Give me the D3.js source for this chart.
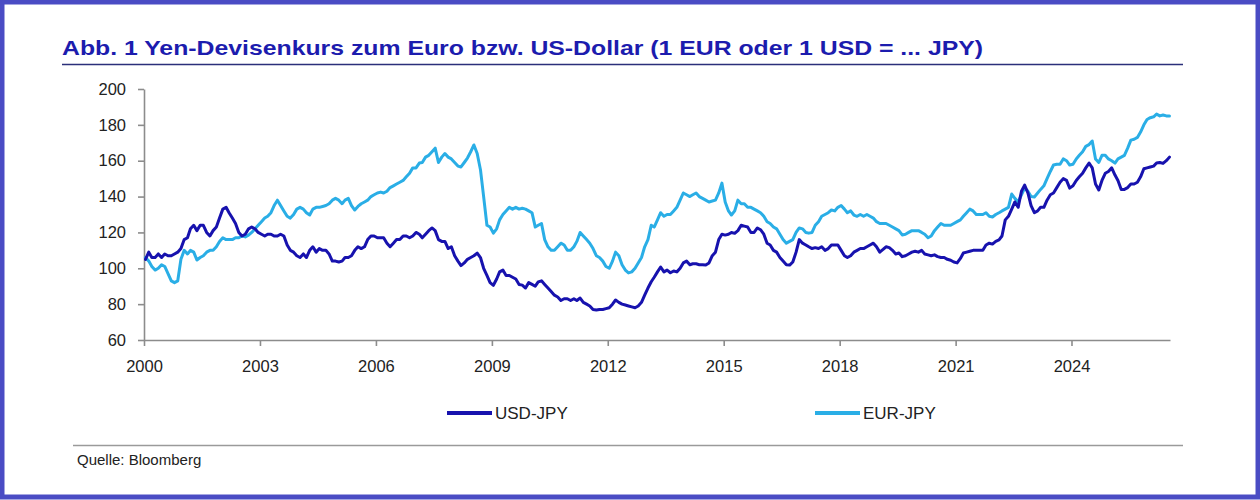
<!DOCTYPE html>
<html>
<head>
<meta charset="utf-8">
<script src="https://cdn.jsdelivr.net/npm/d3@7"></script>
<style>
  html, body { margin: 0; padding: 0; background: #fff; }
  svg { display: block; font-family: "Liberation Sans", Arial, sans-serif; }
</style>
</head>
<body>
<svg id="chart" width="1260" height="500"></svg>
<script>
// ---- Data (monthly, Jan 2000 - Jul 2026) ----
const startYear = 2000;
const usdJpy = [
  105, 109, 106, 106, 108, 106, 108, 107, 107, 108, 109, 111,
  116, 117, 122, 124, 121, 124, 124, 120, 118, 121, 123, 128,
  133, 134, 131, 128, 125, 120, 118, 119, 122, 123, 122, 120,
  119, 118, 119, 119, 118, 118, 119, 118, 113, 110, 109, 107,
  106, 108, 106, 110, 112, 109, 111, 110, 110, 108, 104, 104,
  103.5, 104, 106, 106, 107, 110, 112, 111, 112, 116, 118, 118,
  117, 117, 117, 114, 112, 114, 116, 116, 118, 118, 117, 118,
  120, 119, 117, 119, 121, 122.5, 121, 116, 115, 115, 111, 112,
  107, 104, 101.5, 103, 105, 106, 107, 108.5, 106, 100, 96, 92,
  90.5, 94, 98, 99, 96, 96, 95, 94, 91, 90.6, 89, 92,
  91, 90, 92.4, 93, 91, 89, 87, 85, 84, 82, 83, 83,
  82, 83, 82, 83.4, 81, 80, 79, 77, 76.7, 77, 77, 77.5,
  78, 80, 82.3, 81, 80, 79.5, 79, 78.5, 78, 79, 81, 85,
  89, 92.5, 95, 98, 100.7, 98, 99, 97.5, 98.5, 98, 100, 103,
  104, 102, 102.5, 102.5, 102, 102, 101.8, 103, 107, 109, 116, 119,
  118.5, 119, 120, 119.5, 121, 124, 123.5, 123, 120, 120, 122.5, 121.5,
  119, 114, 113, 110, 109, 106, 104, 102, 101.8, 103.5, 109, 116,
  114, 113, 112, 111, 111.5, 111, 112, 110, 111, 113, 113, 113,
  110, 107, 106, 107, 109, 110, 111, 111, 112, 113, 114, 112,
  109, 110.5, 112, 111.5, 110, 108, 108.5, 106.5, 107, 108, 109, 109.5,
  109, 110, 108, 107.5, 107, 107.5, 106.5, 106, 106, 105, 104.5, 103.5,
  103, 105.5, 108.5, 109, 109.5, 110, 110, 110, 110, 113, 114, 113.5,
  115, 115.8, 118, 127, 129, 133, 137, 134, 143, 146.4, 142, 135,
  131, 132, 134, 134, 138, 141, 142, 145, 148, 150, 149, 144.7,
  146, 149, 151, 153, 156, 158.7, 156, 147, 143.7, 149, 153, 154,
  156, 152, 149, 144, 144, 145, 147, 147, 148, 151, 155.5, 156,
  156.5, 157, 158.7, 159, 158.5, 160, 162
];
const eurJpy = [
  106, 104, 101, 99, 100, 102, 101, 97, 93, 92, 93, 105,
  110, 108, 110, 109, 104.6, 106, 107, 109, 110, 110, 112, 115,
  117, 116, 116, 116, 117, 117, 118, 117.5, 118.5, 120, 122, 124,
  126, 128, 129, 131, 135, 138, 135, 132, 129, 128, 130, 133,
  134, 133, 131, 129.7, 133, 134, 134, 134.5, 135, 136, 138, 139,
  138, 136, 138, 139, 135, 132.5, 134.5, 136, 137, 138, 140, 141,
  142, 142.5, 142, 143, 145, 146, 147, 148, 149, 151, 153, 156,
  156, 158.7, 159, 162, 163, 165, 167, 159, 162, 164, 162, 161,
  159, 157, 156.5, 159, 161.5, 165, 168.8, 164, 155, 140, 124, 123,
  119.6, 122, 127, 130, 132, 134, 133, 134, 133, 133.5, 133, 132,
  131, 123, 124, 125, 116, 112, 110, 110, 112, 114, 113, 110,
  110, 112, 115, 120, 118, 116, 114, 111, 107, 106, 104, 101,
  100, 104, 109, 107, 102, 99, 97.4, 98, 100, 103, 106, 112,
  116, 124, 123, 127, 131, 129, 130, 130, 132, 134, 138, 142,
  141, 140, 141, 142, 140, 139, 138, 137, 137.5, 138, 142, 147.5,
  137, 132, 129.7, 132, 138, 136, 136, 134, 134, 133, 132, 131,
  129, 126, 125, 123, 122, 119, 116, 114, 115, 116, 120, 122.5,
  122, 120, 119.6, 120, 124, 126, 129, 130, 131, 132.5, 132, 134,
  135, 133, 131, 132, 129.7, 129, 130, 129, 130, 129, 128, 126,
  125, 125, 125, 124, 123, 122, 121, 118.6, 119, 120, 121, 121,
  121, 120, 119, 117, 118, 121, 123, 125, 124, 124, 124, 125,
  126, 127, 129, 131, 133, 132, 130, 130, 130, 131, 129, 128.6,
  130, 131, 132, 133, 134, 141.4, 139, 137, 141, 144.7, 143, 140,
  139.8, 142, 144, 146, 150, 154, 157.6, 158, 158, 161, 160, 157.6,
  158, 161, 163, 165, 168, 169, 171, 161, 159, 163, 163, 161,
  160, 158.7, 161, 162, 163, 167, 171.5, 172, 173, 176, 180, 183,
  184, 184.5, 186, 185, 185.5, 185, 185
];
const seriesNames = ["USD-JPY", "EUR-JPY"];
const yTicks = [60, 80, 100, 120, 140, 160, 180, 200];
const xTickYears = [2000, 2003, 2006, 2009, 2012, 2015, 2018, 2021, 2024];
const titleText = "Abb. 1 Yen-Devisenkurs zum Euro bzw. US-Dollar (1 EUR oder 1 USD = ... JPY)";
const sourceText = "Quelle: Bloomberg";

// ---- Build ----
const dates = usdJpy.map((_, i) => new Date(startYear + Math.floor(i / 12), i % 12, 15));
const colors = { "USD-JPY": "#1712ae", "EUR-JPY": "#2aaee6" };

const svg = d3.select("#chart");
svg.append("rect").attr("x", 0).attr("y", 0).attr("width", 1260).attr("height", 500).attr("fill", "#fff");
svg.append("rect").attr("x", 2).attr("y", 2).attr("width", 1256).attr("height", 495)
  .attr("fill", "none").attr("stroke", "#4a4cc4").attr("stroke-width", 5);

// title
svg.append("text").attr("x", 62).attr("y", 55)
  .attr("font-size", 21).attr("font-weight", "bold").attr("fill", "#1c1cae")
  .attr("textLength", 921).attr("lengthAdjust", "spacingAndGlyphs")
  .text(titleText);
svg.append("line").attr("x1", 62).attr("x2", 1183).attr("y1", 64.5).attr("y2", 64.5)
  .attr("stroke", "#2b2f7a").attr("stroke-width", 1.3);

const x = d3.scaleTime().domain([new Date(2000, 0, 1), new Date(2026, 6, 20)]).range([144, 1170]);
const y = d3.scaleLinear().domain([60, 200]).range([340, 89]);

const yAxis = svg.append("g").attr("transform", "translate(144,0)")
  .call(d3.axisLeft(y).tickValues(yTicks).tickSize(6).tickSizeOuter(0).tickPadding(12));
const xAxis = svg.append("g").attr("transform", "translate(0,340)")
  .call(d3.axisBottom(x).tickValues(xTickYears.map(yr => new Date(yr, 0, 1)))
    .tickFormat(d3.timeFormat("%Y")).tickSize(6).tickSizeOuter(0).tickPadding(14));
[yAxis, xAxis].forEach(g => {
  g.select(".domain").attr("stroke", "#8c8c8c").attr("stroke-width", 1.6);
  g.selectAll(".tick line").attr("stroke", "#8c8c8c").attr("stroke-width", 1.6);
  g.selectAll(".tick text").attr("font-size", 16.5).attr("fill", "#222")
    .attr("font-family", "Liberation Sans, Arial, sans-serif");
});

const line = d3.line().x((d, i) => x(dates[i])).y(d => y(d)).curve(d3.curveLinear);
const seriesData = { "USD-JPY": usdJpy, "EUR-JPY": eurJpy };
["EUR-JPY", "USD-JPY"].forEach(name => {
  svg.append("path").datum(seriesData[name])
    .attr("d", line).attr("fill", "none")
    .attr("stroke", colors[name]).attr("stroke-width", 3)
    .attr("stroke-linejoin", "round").attr("stroke-linecap", "round");
});

// legend
const legendX = [447, 815];
seriesNames.forEach((name, i) => {
  const g = svg.append("g").attr("transform", `translate(${legendX[i]},413)`);
  g.append("line").attr("x1", 0).attr("x2", 45).attr("y1", 0).attr("y2", 0)
    .attr("stroke", colors[name]).attr("stroke-width", 4);
  g.append("text").attr("x", 48).attr("y", 0).attr("dy", "0.36em")
    .attr("font-size", 17).attr("fill", "#222").text(name);
});

// footer
svg.append("line").attr("x1", 73).attr("x2", 1183).attr("y1", 445.5).attr("y2", 445.5)
  .attr("stroke", "#9a9a9a").attr("stroke-width", 1.5);
svg.append("text").attr("x", 77).attr("y", 465).attr("font-size", 15).attr("fill", "#222")
  .text(sourceText);
</script>
</body>
</html>
